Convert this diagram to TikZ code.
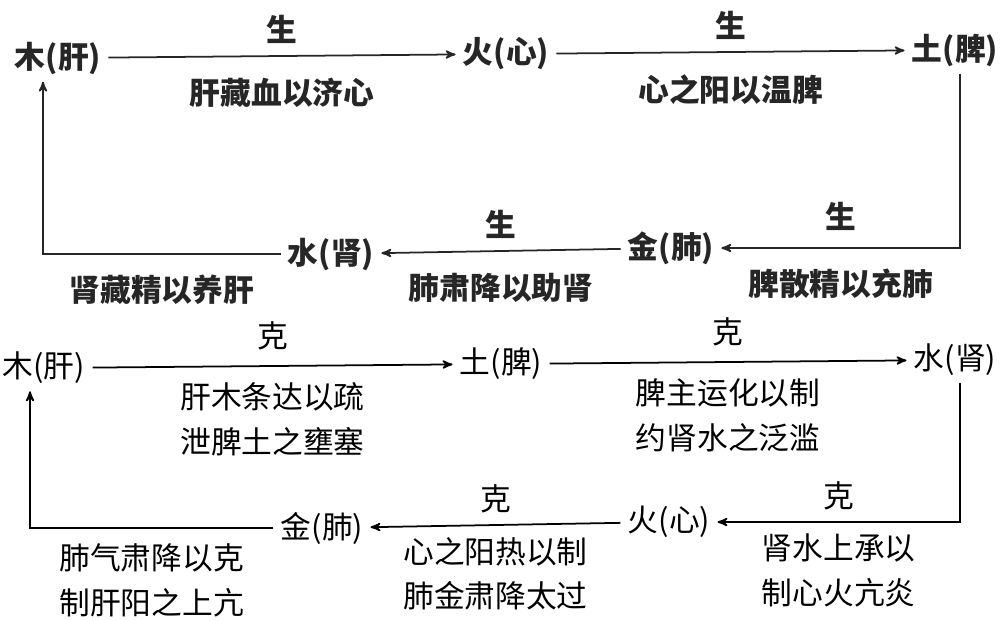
\documentclass[tikz,border=0pt]{standalone}
\usepackage{fontspec}
\setmainfont{Noto Sans CJK SC}
\usetikzlibrary{arrows}

\tikzset{
  organ/.style={inner sep=4pt},
  link/.style={->, >=stealth', line width=1pt},
  relabove/.style={midway, above=5.5pt},
  relbelow/.style={midway, below=5.5pt, align=center},
  shengabove/.style={midway, above=3.3pt},
  shengbelow/.style={midway, below=9pt},
}

\begin{document}
\begin{tikzpicture} [x=0.02cm, y=-0.02cm, font=\fontsize{17.5}{25.5}\selectfont]
\useasboundingbox (0,0) rectangle (1000,620);
% sheng cycle
\begin{scope}[text=black!85, black!85, font=\fontsize{17.5}{25.5}\selectfont\bfseries]
\node[organ] (muA) at (58,58) {木(肝)};
\node[organ] (huoA) at (506,54) {火(心)};
\node[organ] (tuA) at (955,50) {土(脾)};
\node[organ] (jinA) at (671,248) {金(肺)};
\node[organ] (shuiA) at (331,254) {水(肾)};
\draw[link] (muA) -- (huoA) node[shengabove] (shengA1) {生} node[shengbelow] (textA1) {肝藏血以济心};
\draw[link] (huoA) -- (tuA) node[shengabove] (shengA2) {生} node[shengbelow] (textA2) {心之阳以温脾};
\draw[link] ([xshift=0.1cm]tuA.south) |- (jinA) node[pos=.75, above=6pt] (shengA3) {生} node[pos=.75, below=8pt] (textA3) {脾散精以充肺};
\draw[link] (jinA) -- (shuiA) node[shengabove] (shengA4) {生} node[shengbelow] (textA4) {肺肃降以助肾};
\draw[link] (shuiA) -| ([xshift=-0.3cm]muA.south) node[pos=.25, below=8pt] (textA5) {肾藏精以养肝};
\end{scope}
% ke cycle
\node[organ] (muB) at (44,368) {木(肝)};
\node[organ] (tuB) at (501,364) {土(脾)};
\node[organ] (shuiB) at (955,360) {水(肾)};
\node[organ] (huoB) at (669,522) {火(心)};
\node[organ] (jinB) at (322,528) {金(肺)};
\draw[link] (muB) -- (tuB) node[relabove] (keB1) {克} node[relbelow] (textB1) {肝木条达以疏\\泄脾土之壅塞};
\draw[link] (tuB) -- (shuiB) node[relabove] (keB2) {克} node[relbelow] (textB2) {脾主运化以制\\约肾水之泛滥};
\draw[link] ([xshift=0.1cm]shuiB.south) |- (huoB) node[pos=.75, above=3pt] (keB3) {克} node[pos=.75, below=3pt, align=center] (textB3) {肾水上承以\\制心火亢炎};
\draw[link] (huoB) -- (jinB) node[midway, above=3pt] (keB4) {克} node[midway, below=3pt, align=center] (textB4) {心之阳热以制\\肺金肃降太过};
\draw[link] (jinB) -| ([xshift=-0.28cm]muB.south) node[pos=.25, below=5pt, align=center] (textB5) {肺气肃降以克\\制肝阳之上亢};
\end{tikzpicture}
\end{document}
